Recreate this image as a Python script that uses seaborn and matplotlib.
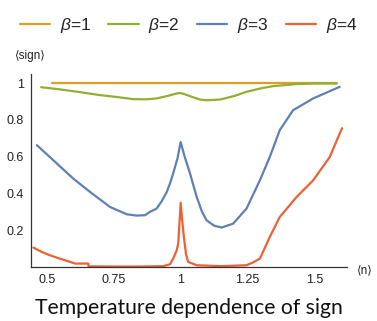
import numpy as np
import pandas as pd
import matplotlib
matplotlib.use("Agg")
import matplotlib.pyplot as plt
import seaborn as sns

# data
beta1_x = [0.52, 0.8, 1.1, 1.4, 1.583]
beta1_y = [1.0, 1.0, 1.0, 1.0, 1.0]

beta2_x = [0.479, 0.55, 0.62, 0.699, 0.76, 0.823, 0.87, 0.91, 0.95, 0.98, 0.997,
           1.015, 1.035, 1.072, 1.097, 1.147, 1.2, 1.246, 1.3, 1.346, 1.433, 1.5, 1.582]
beta2_y = [0.978, 0.966, 0.952, 0.935, 0.925, 0.913, 0.912, 0.917, 0.93, 0.942, 0.947,
           0.94, 0.929, 0.911, 0.907, 0.911, 0.93, 0.953, 0.972, 0.984, 0.995, 0.998, 0.998]

beta3_x = [0.463, 0.531, 0.599, 0.662, 0.736, 0.799, 0.835, 0.867, 0.885, 0.91, 0.93,
           0.948, 0.96, 0.972, 0.988, 1.0, 1.015, 1.035, 1.06, 1.08, 1.097, 1.125,
           1.153, 1.196, 1.246, 1.296, 1.333, 1.37, 1.42, 1.495, 1.594]
beta3_y = [0.663, 0.572, 0.481, 0.408, 0.327, 0.287, 0.28, 0.282, 0.30, 0.318, 0.36,
           0.408, 0.454, 0.509, 0.59, 0.68, 0.6, 0.509, 0.381, 0.3, 0.254, 0.225,
           0.215, 0.236, 0.318, 0.472, 0.599, 0.744, 0.853, 0.917, 0.98]

beta4_x = [0.45, 0.48, 0.512, 0.54, 0.562, 0.606, 0.655, 0.656, 0.75, 0.85, 0.935,
           0.96, 0.972, 0.985, 0.991, 1.0, 1.006, 1.012, 1.02, 1.028, 1.06, 1.15,
           1.246, 1.27, 1.296, 1.333, 1.37, 1.433, 1.495, 1.557, 1.594, 1.603]
beta4_y = [0.106, 0.083, 0.064, 0.05, 0.04, 0.019, 0.019, 0.004, 0.003, 0.003, 0.005,
           0.015, 0.046, 0.09, 0.128, 0.35, 0.25, 0.164, 0.07, 0.028, 0.01, 0.005,
           0.01, 0.025, 0.046, 0.164, 0.272, 0.381, 0.472, 0.599, 0.726, 0.755]

labels = [r"$\beta$=1", r"$\beta$=2", r"$\beta$=3", r"$\beta$=4"]
colors = ["#E19C24", "#8FB032", "#5E81B5", "#EB6235"]

xticks = [0.5, 0.75, 1.0, 1.25, 1.5]
xticklabels = ["0.5", "0.75", "1", "1.25", "1.5"]
yticks = [0.2, 0.4, 0.6, 0.8, 1.0]
yticklabels = ["0.2", "0.4", "0.6", "0.8", "1"]

frames = []
for lab, xs, ys in zip(labels, [beta1_x, beta2_x, beta3_x, beta4_x],
                       [beta1_y, beta2_y, beta3_y, beta4_y]):
    frames.append(pd.DataFrame({"n": xs, "sign": ys, "beta": lab}))
df = pd.concat(frames, ignore_index=True)

sns.set_style("white")
plt.rcParams["font.family"] = ["Liberation Sans", "DejaVu Sans"]
plt.rcParams["mathtext.fontset"] = "custom"
plt.rcParams["mathtext.it"] = "Liberation Sans:italic"
plt.rcParams["mathtext.rm"] = "Liberation Sans"

fig = plt.figure(figsize=(3.77, 3.21), dpi=100)
ax = fig.add_axes([0.0822, 0.168, 0.838, 0.601])

sns.lineplot(data=df, x="n", y="sign", hue="beta", palette=colors,
             estimator=None, sort=False, lw=1.6, ax=ax, legend=True)

ax.set_xlim(0.441, 1.621)
ax.set_ylim(0, 1.049)
ax.set_xticks(xticks)
ax.set_xticklabels(xticklabels)
ax.set_yticks(yticks)
ax.set_yticklabels(yticklabels)
ax.set_xlabel("")
ax.set_ylabel("")
ax.tick_params(direction="in", length=4, width=0.8, labelsize=9,
               colors="#333333", labelcolor="#222222", pad=5)
for s in ["top", "right"]:
    ax.spines[s].set_visible(False)
for s in ["left", "bottom"]:
    ax.spines[s].set_color("#333333")
    ax.spines[s].set_linewidth(0.9)

handles, labs = ax.get_legend_handles_labels()
ax.get_legend().remove()
fig.legend(handles, labs, loc="upper center", bbox_to_anchor=(0.5, 1.0),
           ncol=4, frameon=False, fontsize=12.5, handlelength=1.75,
           handletextpad=0.55, columnspacing=1.0)

fig.text(30 / 377, 1 - 56 / 321, "\u27e8sign\u27e9", fontsize=8.5, ha="center",
         va="center", color="#222222")
fig.text(365 / 377, 1 - 270 / 321, "\u27e8n\u27e9", fontsize=8.5, ha="center",
         va="center", color="#222222")
fig.text(0.5, 1 - 308 / 321, "Temperature dependence of sign", fontsize=15.2,
         ha="center", va="center", family="Lato", color="#111111")

fig.savefig("out.png", dpi=100)
